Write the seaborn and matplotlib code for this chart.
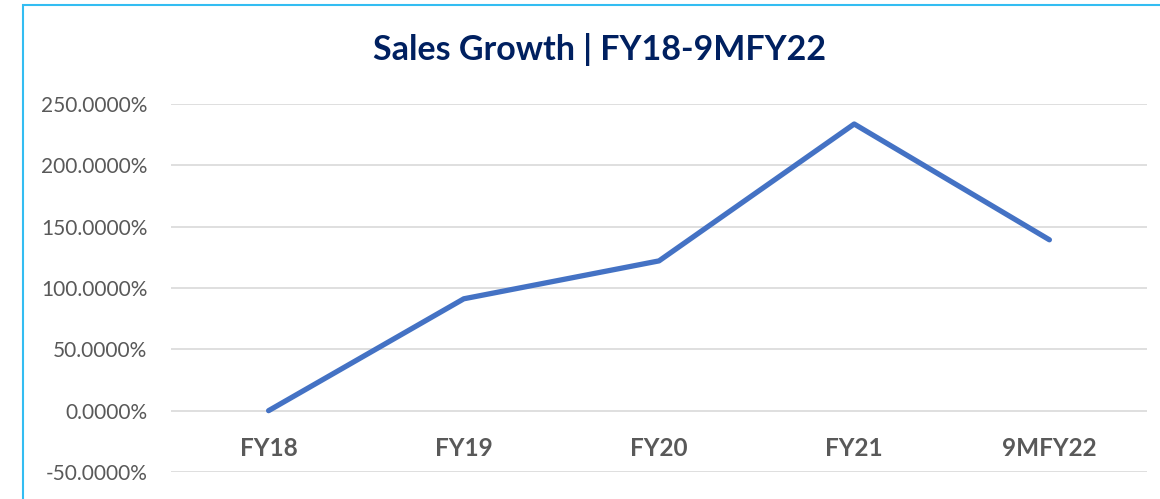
import matplotlib
matplotlib.use("Agg")
import matplotlib.pyplot as plt
import seaborn as sns
import pandas as pd
from matplotlib.patches import Rectangle
from matplotlib.ticker import FuncFormatter

categories = ["FY18", "FY19", "FY20", "FY21", "9MFY22"]
growth = [0.0, 91.2, 122.1, 233.7, 139.3]
y_ticks = [-50, 0, 50, 100, 150, 200, 250]

sns.set_theme(style="white")
plt.rcParams['font.family'] = ['Lato', 'DejaVu Sans']

df = pd.DataFrame({"cat": categories, "val": growth})

W, H = 1160, 499
fig = plt.figure(figsize=(W / 100, H / 100), dpi=100)
ax = fig.add_axes([171 / W, 1 - 472 / H, (1147 - 171) / W, (472 - 104) / H])

sns.lineplot(data=df, x="cat", y="val", ax=ax, color="#4472C4", linewidth=3.8,
             sort=False)

ax.set_xlim(-0.5, len(categories) - 0.5)
ax.set_ylim(-50, 250)
ax.set_yticks(y_ticks)
ax.yaxis.set_major_formatter(FuncFormatter(lambda v, p: f"{v:.4f}%"))
ax.grid(axis="y", color="#D9D9D9", linewidth=1.2)
ax.grid(axis="x", visible=False)
ax.set_axisbelow(True)
for s in ax.spines.values():
    s.set_visible(False)
ax.set_xlabel("")
ax.set_ylabel("")
ax.tick_params(axis="y", labelsize=15, labelcolor="#595959", pad=17, length=0)
ax.tick_params(axis="x", labelsize=17.5, labelcolor="#595959", pad=-25, length=0)
for lbl in ax.get_xticklabels():
    lbl.set_fontweight("bold")

fig.text(0.517, 1 - 50 / H, "Sales Growth | FY18-9MFY22", ha="center", va="center",
         fontsize=24.5, fontweight="bold", color="#002060")

fig.patches.append(Rectangle((23 / W, -0.1), 1.2, 1 - 5 / H + 0.1,
                             transform=fig.transFigure, fill=False,
                             edgecolor="#33BDF2", linewidth=1.5))

fig.savefig("out.png", dpi=100)
